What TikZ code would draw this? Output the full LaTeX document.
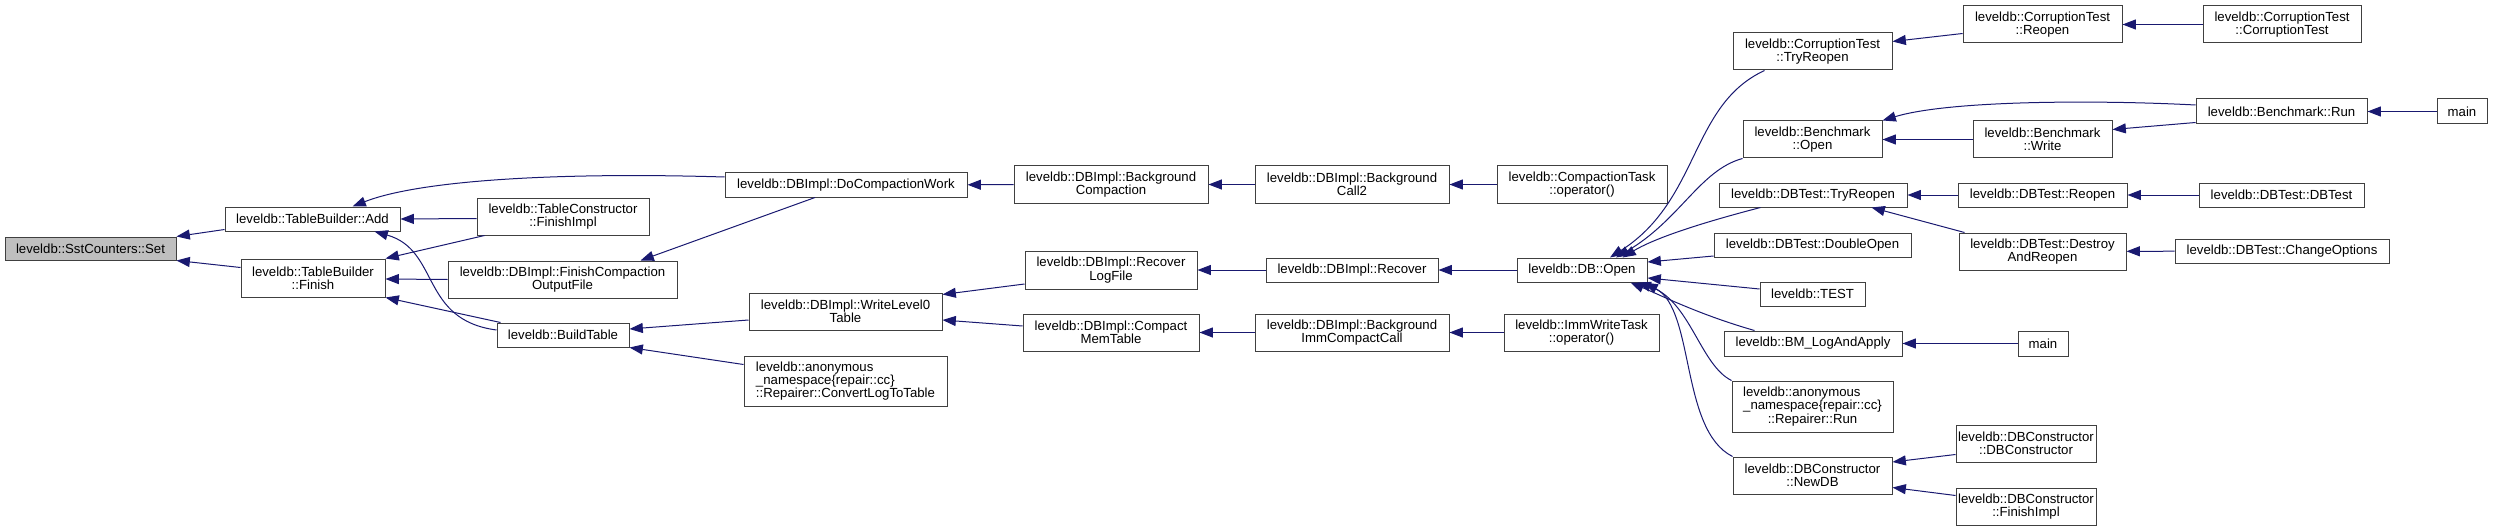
\documentclass[tikz,border=0pt]{standalone}
\usepackage{fontspec}
\setmainfont{Liberation Sans}
\usetikzlibrary{arrows.meta,positioning,calc}
\definecolor{edgeblue}{HTML}{191970}
\definecolor{nodegray}{HTML}{BFBFBF}

\begin{document}
\begin{tikzpicture}[x=0.75pt, y=-0.75pt, >={Triangle[length=10pt,width=7.5pt]}, font=\fontsize{9.9}{9.9}\selectfont]
        \tikzstyle{fn} = [rectangle, draw=black!75, line width=0.75pt, fill=white, inner sep=0pt, align=center]
        \tikzstyle{line} = [draw, ->, edgeblue, line width=0.75pt]
        \tikzset{wh/.style 2 args={minimum width=#1*0.75pt, minimum height=#2*0.75pt}}

        \useasboundingbox (0,0) rectangle (2493,531);

        \node [fn, wh={171}{23}, fill=nodegray] (set) at (90.5,248.5) {leveldb::SstCounters::Set};
        \node [fn, wh={175}{24}] (tbAdd) at (312.5,219) {leveldb::TableBuilder::Add};
        \node [fn, wh={144}{38}] (tbFinish) at (313,278) {leveldb::TableBuilder\\::Finish};
        \node [fn, wh={242}{24}] (doComp) at (846,185) {leveldb::DBImpl::DoCompactionWork};
        \node [fn, wh={172}{37}] (tcFinish) at (563,216.5) {leveldb::TableConstructor\\::FinishImpl};
        \node [fn, wh={229}{37}] (finishOut) at (562.5,279.5) {leveldb::DBImpl::FinishCompaction\\OutputFile};
        \node [fn, wh={132}{24}] (buildTable) at (563,335) {leveldb::BuildTable};
        \node [fn, wh={193}{37}] (writeL0) at (845.5,311.5) {leveldb::DBImpl::WriteLevel0\\Table};
        \node [fn, wh={203}{50}, align=left] (convertLog) at (845.5,381) {leveldb::anonymous\\\_namespace\{repair::cc\}\\::Repairer::ConvertLogToTable};
        \node [fn, wh={194}{37}] (bgComp) at (1111,184.5) {leveldb::DBImpl::Background\\Compaction};
        \node [fn, wh={172}{38}] (recoverLog) at (1111,270) {leveldb::DBImpl::Recover\\LogFile};
        \node [fn, wh={176}{37}] (compactMem) at (1111,332.5) {leveldb::DBImpl::Compact\\MemTable};
        \node [fn, wh={194}{37}] (bgCall) at (1352,184.5) {leveldb::DBImpl::Background\\Call2};
        \node [fn, wh={172}{24}] (dbRecover) at (1352,270) {leveldb::DBImpl::Recover};
        \node [fn, wh={194}{37}] (bgImm) at (1352,332.5) {leveldb::DBImpl::Background\\ImmCompactCall};
        \node [fn, wh={170}{37}] (compTask) at (1582,184.5) {leveldb::CompactionTask\\::operator()};
        \node [fn, wh={130}{24}] (dbOpen) at (1582,270) {leveldb::DB::Open};
        \node [fn, wh={155}{37}] (immTask) at (1581.5,332.5) {leveldb::ImmWriteTask\\::operator()};

        % callers of DB::Open
        \node [fn, wh={159}{37}] (ctTry) at (1812.5,51.5) {leveldb::CorruptionTest\\::TryReopen};
        \node [fn, wh={139}{37}] (bmOpen) at (1812.5,139.5) {leveldb::Benchmark\\::Open};
        \node [fn, wh={188}{24}] (dtTry) at (1813,195) {leveldb::DBTest::TryReopen};
        \node [fn, wh={197}{24}] (dtDouble) at (1812.5,245) {leveldb::DBTest::DoubleOpen};
        \node [fn, wh={105}{24}] (test) at (1812.5,294) {leveldb::TEST};
        \node [fn, wh={178}{25}] (bmLog) at (1813,343.5) {leveldb::BM\_LogAndApply};
        \node [fn, wh={161}{51}] (repRun) at (1812.5,406.5) {\rlap{leveldb::anonymous}\phantom{\_namespace\{repair::cc\}}\\\_namespace\{repair::cc\}\\::Repairer::Run};
        \node [fn, wh={159}{37}] (newDB) at (1812.5,475.5) {leveldb::DBConstructor\\::NewDB};

        \node [fn, wh={159}{37}] (ctReopen) at (2042.5,24.5) {leveldb::CorruptionTest\\::Reopen};
        \node [fn, wh={139}{37}] (bmWrite) at (2042.5,139.5) {leveldb::Benchmark\\::Write};
        \node [fn, wh={169}{24}] (dtReopen) at (2042.5,195) {leveldb::DBTest::Reopen};
        \node [fn, wh={167}{37}] (dtDestroy) at (2042.5,251.5) {leveldb::DBTest::Destroy\\AndReopen};
        \node [fn, wh={50}{25}] (mainB) at (2043,343.5) {main};
        \node [fn, wh={140}{37}] (dcCtor) at (2026,443.5) {leveldb::DBConstructor\\::DBConstructor};
        \node [fn, wh={140}{37}] (dcFinish) at (2026,506.5) {leveldb::DBConstructor\\::FinishImpl};

        \node [fn, wh={158}{37}] (ctCtor) at (2282,24.5) {leveldb::CorruptionTest\\::CorruptionTest};
        \node [fn, wh={171}{25}] (bmRun) at (2281.5,111.5) {leveldb::Benchmark::Run};
        \node [fn, wh={165}{24}] (dtCtor) at (2281.5,195) {leveldb::DBTest::DBTest};
        \node [fn, wh={214}{24}] (dtChange) at (2282,251) {leveldb::DBTest::ChangeOptions};
        \node [fn, wh={50}{25}] (mainA) at (2462,111.5) {main};

        \path [line] ($(tbAdd.south west)+(0,-2)$) -- (set.north east);
        \path [line] ($(tbFinish.north west)+(0,9)$) -- (set.south east);
        \path [line] ($(doComp.west)+(0,-8)$) .. controls (560,172) and (420,180) .. ($(tbAdd.north)+(40,0)$);
        \path [line] ($(tcFinish.west)+(0,2)$) -- (tbAdd.east);
        \path [line] ($(buildTable.west)+(0,-5)$) .. controls (420,320) and (440,250) .. ($(tbAdd.south)+(62,0)$);
        \path [line] ($(tcFinish.south west)+(8,0)$) -- (tbFinish.north east);
        \path [line] (finishOut.west) -- ($(tbFinish.east)+(0,1)$);
        \path [line] ($(buildTable.north west)+(4,0)$) -- (tbFinish.south east);
        \path [line] ($(doComp.south)+(-31,0)$) -- ($(finishOut.north)+(78,0)$);
        \path [line] ($(writeL0.west)+(0,8.5)$) -- ($(buildTable.east)+(0,-6)$);
        \path [line] ($(convertLog.north west)+(0,9)$) -- (buildTable.south east);
        \path [line] (bgComp) -- (doComp);
        \path [line] (bgCall) -- (bgComp);
        \path [line] (compTask) -- (bgCall);
        \path [line] ($(recoverLog.west)+(0,14)$) -- ($(writeL0.north east)+(0,2)$);
        \path [line] ($(compactMem.west)+(0,-6.5)$) -- ($(writeL0.east)+(0,8.5)$);
        \path [line] (dbRecover) -- (recoverLog);
        \path [line] (dbOpen) -- (dbRecover);
        \path [line] (bgImm) -- (compactMem);
        \path [line] (immTask) -- (bgImm);

        % fan-in to DB::Open
        \path [line] ($(ctTry.south west)+(32,0)$) .. controls (1690,105) and (1700,200) .. ($(dbOpen.north)+(28,0)$);
        \path [line] (bmOpen.south west) .. controls (1700,170) and (1680,220) .. ($(dbOpen.north)+(34,0)$);
        \path [line] ($(dtTry.south west)+(42,0)$) .. controls (1720,218) and (1660,235) .. ($(dbOpen.north east)+(-25,0)$);
        \path [line] ($(dtDouble.west)+(0,11)$) -- ($(dbOpen.east)+(0,-8)$);
        \path [line] ($(test.west)+(0,-5)$) -- ($(dbOpen.east)+(0,8)$);
        \path [line] ($(bmLog.north west)+(31,0)$) .. controls (1700,315) and (1660,295) .. ($(dbOpen.south east)+(-17,0)$);
        \path [line] (repRun.north west) .. controls (1700,365) and (1690,300) .. ($(dbOpen.south east)+(-10,0)$);
        \path [line] (newDB.north west) .. controls (1680,430) and (1695,310) .. ($(dbOpen.south east)+(-3,0)$);

        \path [line] ($(ctReopen.west)+(0,9)$) -- ($(ctTry.north east)+(0,9)$);
        \path [line] (ctCtor) -- (ctReopen);
        \path [line] ($(bmRun.west)+(0,-6.5)$) .. controls (2100,100) and (1950,100) .. (bmOpen.north east);
        \path [line] (bmWrite) -- (bmOpen);
        \path [line] ($(bmRun.south west)+(0,-2)$) -- ($(bmWrite.north east)+(0,9)$);
        \path [line] (mainA) -- (bmRun);
        \path [line] (dtReopen) -- (dtTry);
        \path [line] ($(dtDestroy.north west)+(6,0)$) -- ($(dtTry.south east)+(-36,0)$);
        \path [line] (dtCtor) -- (dtReopen);
        \path [line] (dtChange) -- (dtDestroy);
        \path [line] (mainB) -- (bmLog);
        \path [line] ($(dcCtor.west)+(0,11)$) -- ($(newDB.east)+(0,-13.5)$);
        \path [line] ($(dcFinish.west)+(0,-11)$) -- ($(newDB.east)+(0,12)$);
    \end{tikzpicture}
\end{document}
